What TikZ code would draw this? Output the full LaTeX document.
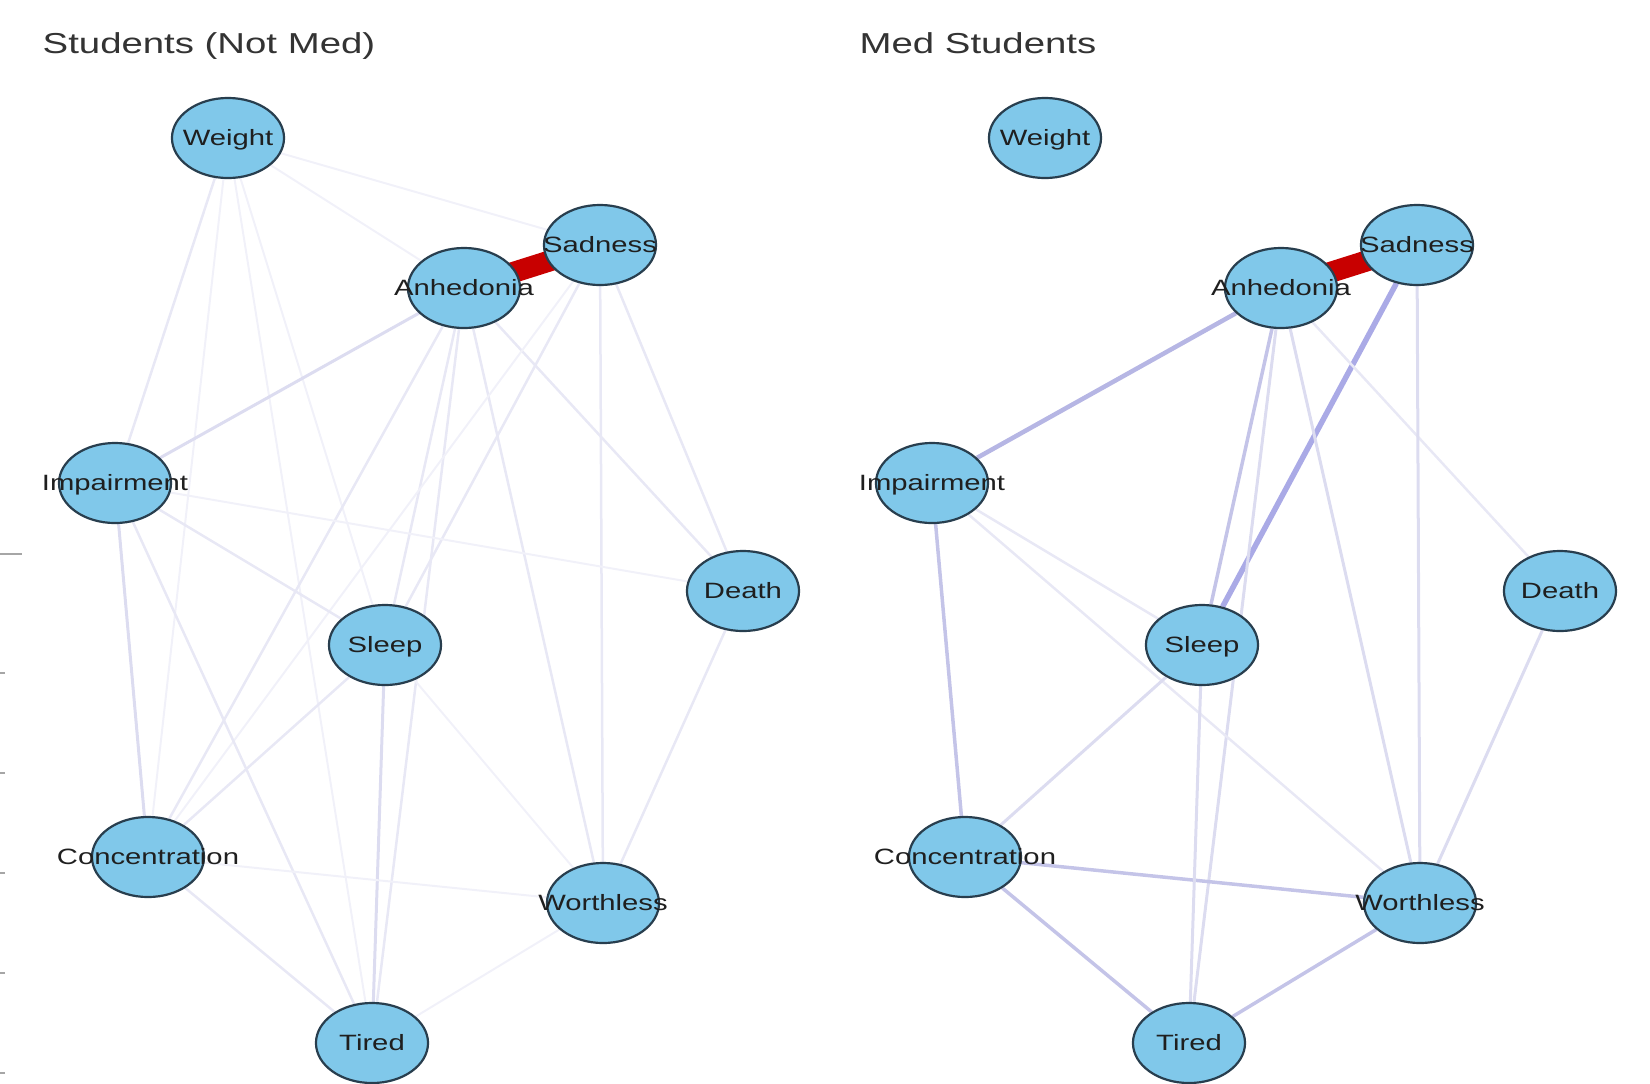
\documentclass[tikz,border=0pt]{standalone}
\usepackage{fontspec}
\usetikzlibrary{shapes.geometric,backgrounds}
\newfontfamily\etiquette[FakeStretch=1.32]{Liberation Sans}
\newfontfamily\titre[FakeStretch=1.33]{Liberation Sans}
\definecolor{bleunoeud}{RGB}{128,200,234}
\definecolor{bordnoeud}{RGB}{40,62,78}
\definecolor{lienA}{RGB}{241,241,249}
\definecolor{lienB}{RGB}{232,232,245}
\definecolor{lienC}{RGB}{220,220,240}
\definecolor{lienD}{RGB}{196,196,232}
\definecolor{lienE}{RGB}{182,182,228}
\definecolor{lienF}{RGB}{170,170,230}
\definecolor{rougelien}{RGB}{200,0,0}
\begin{document}
\begin{tikzpicture}[x=0.01cm,y=-0.01cm]
		% Styles (MODIFIABLES)
		\tikzstyle{noeud}=[ellipse,draw=bordnoeud,fill=bleunoeud,line width=0.022cm,minimum width=1.12cm,minimum height=0.80cm,inner sep=0pt,font=\etiquette\fontsize{6.3}{7}\selectfont,text=black!88,text height=0.158cm,text depth=0pt]
		\tikzstyle{entete}=[anchor=base west,inner sep=0pt,font=\titre\fontsize{8.2}{10}\selectfont,text=black!80]
		\tikzstyle{lien0}=[line width=0.02cm,lienA]
		\tikzstyle{lien1}=[line width=0.025cm,lienB]
		\tikzstyle{lien2}=[line width=0.03cm,lienC]
		\tikzstyle{lien3}=[line width=0.035cm,lienD]
		\tikzstyle{lien4}=[line width=0.045cm,lienE]
		\tikzstyle{lien5}=[line width=0.055cm,lienF]
		\tikzstyle{rouge}=[line width=0.21cm,rougelien]
		\tikzstyle{repere}=[line width=0.02cm,black!35]
		% Dimensions (MODIFIABLES)
		\def\Decalage{817}
		\def\Etiq#1{\makebox[0pt]{#1}}
		% Cadre
		\useasboundingbox (0,0) rectangle (1650,1084);
		% Titres
		\node[entete] (titre1) at (42,53) {Students (Not Med)};
		\node[entete] (titre2) at ({42+\Decalage},53) {Med Students};
		% Reperes au bord gauche
		\draw[repere] (0,554) -- (22,554);
		\foreach \y in {673,773,873,973,1073} \draw[repere] (0,\y) -- (5,\y);
		% Noeuds : etudiants (pas en medecine)
		\node[noeud] (W1) at (228,138) {\Etiq{Weight}};
		\node[noeud] (S1) at (600,245) {\Etiq{Sadness}};
		\node[noeud] (A1) at (464,288) {\Etiq{Anhedonia}};
		\node[noeud] (I1) at (115,483) {\Etiq{Impairment}};
		\node[noeud] (D1) at (743,591) {\Etiq{Death}};
		\node[noeud] (Sl1) at (385,645) {\Etiq{Sleep}};
		\node[noeud] (C1) at (148,857) {\Etiq{Concentration}};
		\node[noeud] (Wo1) at (603,903) {\Etiq{Worthless}};
		\node[noeud] (T1) at (372,1043) {\Etiq{Tired}};
		% Noeuds : etudiants en medecine
		\node[noeud] (W2) at ({228+\Decalage},138) {\Etiq{Weight}};
		\node[noeud] (S2) at ({600+\Decalage},245) {\Etiq{Sadness}};
		\node[noeud] (A2) at ({464+\Decalage},288) {\Etiq{Anhedonia}};
		\node[noeud] (I2) at ({115+\Decalage},483) {\Etiq{Impairment}};
		\node[noeud] (D2) at ({743+\Decalage},591) {\Etiq{Death}};
		\node[noeud] (Sl2) at ({385+\Decalage},645) {\Etiq{Sleep}};
		\node[noeud] (C2) at ({148+\Decalage},857) {\Etiq{Concentration}};
		\node[noeud] (Wo2) at ({603+\Decalage},903) {\Etiq{Worthless}};
		\node[noeud] (T2) at ({372+\Decalage},1043) {\Etiq{Tired}};
		% Arcs (MODIFIABLES : Styles)
		\begin{scope}[on background layer]
		\draw[lien0] (W1)--(S1);
		\draw[lien0] (W1)--(A1);
		\draw[lien1] (W1)--(I1);
		\draw[lien0] (W1)--(Sl1);
		\draw[lien0] (W1)--(T1);
		\draw[lien0] (W1)--(C1);
		\draw[lien2] (A1)--(I1);
		\draw[lien1] (A1)--(Sl1);
		\draw[lien1] (A1)--(T1);
		\draw[lien1] (A1)--(Wo1);
		\draw[lien1] (A1)--(D1);
		\draw[lien1] (A1)--(C1);
		\draw[lien1] (S1)--(Wo1);
		\draw[lien1] (S1)--(D1);
		\draw[lien1] (S1)--(Sl1);
		\draw[lien0] (S1)--(C1);
		\draw[lien2] (I1)--(C1);
		\draw[lien1] (I1)--(T1);
		\draw[lien1] (I1)--(Sl1);
		\draw[lien0] (I1)--(D1);
		\draw[lien1] (D1)--(Wo1);
		\draw[lien2] (Sl1)--(T1);
		\draw[lien1] (Sl1)--(C1);
		\draw[lien0] (Sl1)--(Wo1);
		\draw[lien0] (C1)--(Wo1);
		\draw[lien1] (C1)--(T1);
		\draw[lien0] (Wo1)--(T1);
		\draw[rouge] (A1.center)--(S1.center);
		%
		\draw[lien4] (A2)--(I2);
		\draw[lien5] (S2)--(Sl2);
		\draw[lien3] (A2)--(Sl2);
		\draw[lien2] (A2)--(T2);
		\draw[lien2] (A2)--(Wo2);
		\draw[lien1] (A2)--(D2);
		\draw[lien2] (S2)--(Wo2);
		\draw[lien3] (I2)--(C2);
		\draw[lien1] (I2)--(Sl2);
		\draw[lien1] (I2)--(Wo2);
		\draw[lien2] (Sl2)--(C2);
		\draw[lien3] (C2)--(Wo2);
		\draw[lien3] (C2)--(T2);
		\draw[lien3] (Wo2)--(T2);
		\draw[lien2] (D2)--(Wo2);
		\draw[lien2] (Sl2)--(T2);
		\draw[rouge] (A2.center)--(S2.center);
		\end{scope}
	\end{tikzpicture}
\end{document}
